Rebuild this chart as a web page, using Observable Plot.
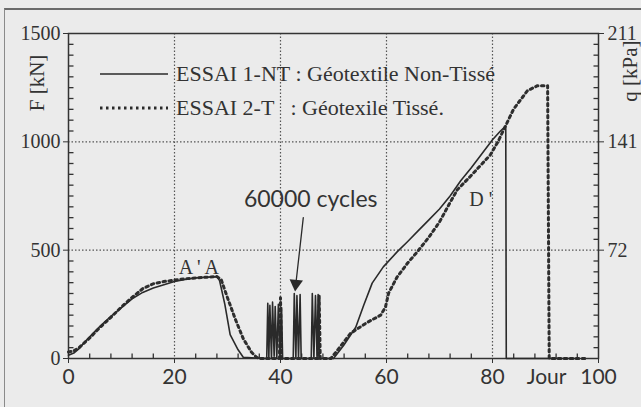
<!DOCTYPE html>
<html>
<head>
<meta charset="utf-8">
<script src="https://cdn.jsdelivr.net/npm/d3@7"></script>
<script src="https://cdn.jsdelivr.net/npm/@observablehq/plot@0.6"></script>
<style>
  html, body { margin: 0; padding: 0; background: #ebebeb; }
  #wrap { position: relative; width: 641px; height: 407px; overflow: hidden; }
  #frame { position: absolute; left: 4px; top: 8px; width: 660px; height: 420px;
           border-top: 2px solid #6a6a6a; border-left: 1.5px solid #8a8a8a; }
  .lbl { position: absolute; font-family: "Liberation Serif", serif; font-size: 21px; color: #333;
         white-space: pre; transform: translate(-50%, -50%) rotate(-90deg); }
  #legend { position: absolute; left: 100px; top: 57px; font-family: "Liberation Serif", serif;
            font-size: 22px; color: #333; }
  #legend .row { display: flex; align-items: center; height: 34px; white-space: pre; }
  #legend svg { margin-right: 8px; }
</style>
</head>
<body>
<div id="wrap">
  <div id="chart"></div>
  <div id="frame"></div>
  <div class="lbl" style="left:37px; top:83px;">F [kN]</div>
  <div class="lbl" style="left:630px; top:71px;">q [kPa]</div>
  <div id="legend"></div>
</div>
<script>
// ---- data ----
const legendLabels = ["ESSAI 1-NT : Géotextile Non-Tissé", "ESSAI 2-T   : Géotexile Tissé."];

// ESSAI 1-NT (solid)
const daysNT = [0, 1, 2, 3, 4, 5, 6, 8, 10, 12, 14, 16, 18, 20, 22, 24, 26, 28, 28.5, 29.5, 30.5, 32, 33, 37.4,
  37.6, 37.8, 38.0, 38.3, 38.5, 38.8, 39.0, 39.3, 39.6, 39.9, 40.2, 40.4,
  42.4, 42.6, 42.9, 43.1, 43.4, 43.7, 43.9,
  45.8, 46.0, 46.3, 46.6, 46.9, 47.1, 47.3,
  50, 51.9, 54.2, 55.7, 57.3, 59.4, 62, 64, 66, 68, 70, 72, 74, 76, 78, 80, 81.5, 82.5, 82.6, 96];
const forceNT = [15, 25, 45, 75, 100, 125, 150, 195, 235, 275, 305, 325, 340, 355, 365, 372, 375, 378, 360, 250, 110, 40, 5, 0,
  255, 0, 245, 0, 260, 10, 240, 0, 250, 0, 235, 0,
  0, 300, 0, 290, 5, 295, 0,
  0, 300, 0, 290, 0, 295, 0,
  0, 60, 144, 246, 348, 423, 492, 540, 590, 640, 690, 750, 820, 880, 945, 1010, 1050, 1073, 0, 0];

// ESSAI 2-T (dotted)
const daysT = [0, 1, 2, 4, 6, 8, 10, 12, 14, 16, 18, 20, 22, 24, 26, 28, 28.8, 30, 31.5, 33, 34.5, 35.5, 36,
  39.8, 40.0, 40.2, 47.1, 47.3, 47.5, 49.5,
  50.7, 53.2, 56.4, 58.9, 59.8, 60.4, 62, 64, 65.8, 68, 70, 72, 73.4, 75.8, 77.7, 79.6, 81, 82.8, 84, 86.6, 88.5, 90.4, 90.7, 98];
const forceT = [30, 35, 50, 95, 145, 190, 238, 282, 322, 345, 355, 362, 368, 372, 375, 378, 365, 280, 180, 90, 30, 5, 0,
  0, 280, 0, 0, 290, 0, 0,
  37, 116, 167, 200, 237, 302, 376, 441, 492, 560, 630, 720, 780, 840, 890, 940, 999, 1091, 1152, 1236, 1259, 1259, 0, 0];

const xTicks = [0, 20, 40, 60, 80, 100];
const xTickLabels = ["0", "20", "40", "60", "80", "100"];
const xMinor = d3.range(0, 101, 4).filter(d => !xTicks.includes(d));
const yTicks = [0, 500, 1000, 1500];
const yTickLabels = ["0", "500", "1000", "1500"];
const yMinor = d3.range(0, 1501, 50).filter(d => !yTicks.includes(d));
const qTicks = [500, 1000, 1500];
const qTickLabels = ["72", "141", "211"];
const gridX = [20, 40, 60, 80];
const gridY = [500, 1000];

const annotations = [
  {x: 24.6, y: 420, text: "A ' A", font: "Liberation Serif", size: 20},
  {x: 77.8, y: 735, text: "D '", font: "Liberation Serif", size: 20},
  {x: 45.7, y: 735, text: "60000 cycles", font: "Lato", size: 23}
];
const cycleArrow = {x1: 44.3, y1: 650, x2: 42.9, y2: 345};
const xUnit = {x: 90.2, text: "Jour"};

// ---- build ----
const nt = daysNT.map((d, i) => ({day: d, F: forceNT[i]}));
const t = daysT.map((d, i) => ({day: d, F: forceT[i]}));
const ink = "#333";
const serif = "Liberation Serif";
const W = 641, H = 407, mL = 68, mR = 43, mT = 33, mB = 49;
const fw = W - mL - mR, fh = H - mT - mB, minorLen = 5;
const xDom = [0, 100], yDom = [0, 1500];
const dxTick = minorLen * (xDom[1] - xDom[0]) / fw;   // tick length in data units
const dyTick = minorLen * (yDom[1] - yDom[0]) / fh;

const leftMinor = yMinor.map(v => ({a: xDom[0], b: xDom[0] + dxTick, v}));
const rightMinor = yMinor.map(v => ({a: xDom[1] - dxTick, b: xDom[1], v}));
const bottomMinor = xMinor.map(v => ({a: yDom[0], b: yDom[0] + dyTick, v}));

const plot = Plot.plot({
  width: W,
  height: H,
  marginLeft: mL,
  marginRight: mR,
  marginTop: mT,
  marginBottom: mB,
  style: {background: "transparent", color: ink, overflow: "visible"},
  x: {domain: xDom},
  y: {domain: yDom},
  marks: [
    Plot.ruleX(gridX, {stroke: "#555", strokeWidth: 1.2, strokeDasharray: "1.5,2"}),
    Plot.ruleY(gridY, {stroke: "#555", strokeWidth: 1.2, strokeDasharray: "1.5,2"}),
    // inward minor ticks
    Plot.link(leftMinor, {x1: "a", x2: "b", y1: "v", y2: "v", stroke: ink, strokeWidth: 1.3}),
    Plot.link(rightMinor, {x1: "a", x2: "b", y1: "v", y2: "v", stroke: ink, strokeWidth: 1.3}),
    Plot.link(bottomMinor, {x1: "v", x2: "v", y1: "a", y2: "b", stroke: ink, strokeWidth: 1.3}),
    Plot.frame({stroke: ink, strokeWidth: 1.5}),
    Plot.axisY({ticks: yTicks, tickSize: 5, tickPadding: 3, label: null,
      tickFormat: d => yTickLabels[yTicks.indexOf(d)], fontSize: 20, fontFamily: serif, stroke: ink}),
    Plot.axisY({anchor: "right", ticks: qTicks, tickSize: 5, tickPadding: 4, label: null,
      tickFormat: d => qTickLabels[qTicks.indexOf(d)], fontSize: 20, fontFamily: serif, stroke: ink}),
    Plot.axisX({ticks: xTicks, tickSize: 5, tickPadding: 6, label: null,
      tickFormat: d => xTickLabels[xTicks.indexOf(d)], fontSize: 21, fontFamily: "Lato", stroke: ink}),
    Plot.text([xUnit], {x: "x", text: "text", frameAnchor: "bottom", lineAnchor: "top", dy: 11,
      fontSize: 21, fontFamily: "Lato", fill: ink}),
    Plot.line(t, {x: "day", y: "F", stroke: "#2e2e2e", strokeWidth: 3, strokeDasharray: "2.5,3.5"}),
    Plot.line(nt, {x: "day", y: "F", stroke: "#2a2a2a", strokeWidth: 1.6, strokeLinejoin: "round"}),
    Plot.arrow([cycleArrow], {x1: "x1", y1: "y1", x2: "x2", y2: "y2", stroke: "#2a2a2a", strokeWidth: 1.3, headLength: 0}),
    Plot.dot([cycleArrow], {x: "x2", y: "y2", symbol: "triangle", r: 5, rotate: 186, fill: "#2a2a2a", stroke: "none"}),
    ...annotations.map(a => Plot.text([a], {x: "x", y: "y", text: "text", fontFamily: a.font, fontSize: a.size, fill: ink}))
  ]
});
document.getElementById("chart").appendChild(plot);

// legend
const legend = document.getElementById("legend");
legendLabels.forEach((lab, i) => {
  const row = document.createElement("div");
  row.className = "row";
  const dash = i === 0 ? "" : 'stroke-dasharray="2.5,3.5"';
  const sw = i === 0 ? 1.6 : 3;
  row.innerHTML = `<svg width="68" height="10"><line x1="0" x2="68" y1="5" y2="5" stroke="#2a2a2a" stroke-width="${sw}" ${dash}/></svg><span>${lab}</span>`;
  legend.appendChild(row);
});
</script>
</body>
</html>
